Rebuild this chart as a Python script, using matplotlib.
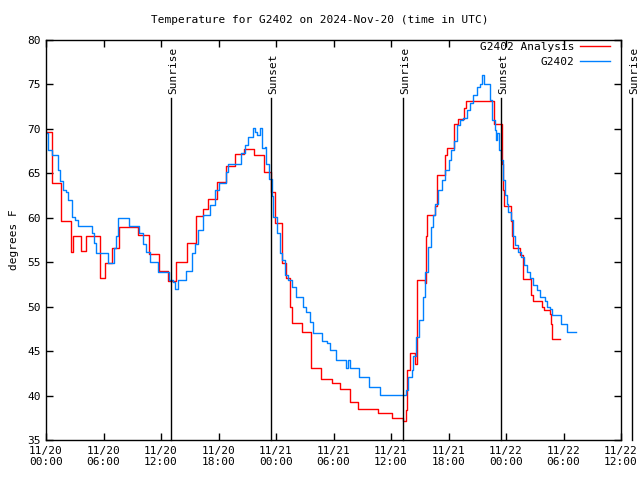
import matplotlib
matplotlib.use('Agg')
import matplotlib.pyplot as plt

plt.rcParams['font.family'] = ['DejaVu Sans Mono']
plt.rcParams['font.size'] = 8

# hours since 2024-11-20 00:00 UTC
analysis_hours = [0.0, 0.6, 1.6, 2.6, 2.85, 3.6, 4.2, 5.0, 5.6, 6.2, 6.9, 7.6, 9.6, 10.7, 11.8, 12.7,
                  13.6, 14.7, 15.7, 16.4, 16.9, 17.8, 18.8, 19.7, 20.7, 21.7, 22.7, 23.5, 23.9, 24.6,
                  25.0, 25.5, 25.7, 26.7, 27.6, 28.7, 29.8, 30.7, 31.7, 32.6, 34.6, 36.1, 37.2,
                  37.6, 37.7, 38.0, 38.5, 38.7, 39.5, 39.7, 39.8, 40.6, 40.8, 41.6, 41.8, 42.6, 43.0,
                  43.6, 43.8, 46.7, 47.6, 47.7, 47.8, 48.5, 48.6, 48.7, 49.5, 49.8, 50.6, 50.8, 51.8,
                  52.0, 52.6, 52.7, 52.8, 53.6]
analysis_temp = [69.7, 63.9, 59.6, 56.2, 57.9, 56.3, 58.0, 58.0, 53.2, 54.9, 56.6, 59.0, 58.1, 55.9, 54.0, 52.9,
                 55.0, 57.2, 60.2, 61.0, 62.1, 64.0, 65.8, 67.2, 67.7, 67.1, 65.2, 62.9, 59.4, 54.9,
                 53.2, 50.0, 48.2, 47.2, 43.1, 41.9, 41.4, 40.7, 39.3, 38.5, 38.0, 37.5, 37.1,
                 38.4, 42.9, 44.8, 43.6, 53.0, 52.7, 57.9, 60.3, 61.3, 64.8, 67.1, 67.9, 70.6, 71.1,
                 72.3, 73.1, 70.5, 66.1, 63.1, 61.3, 59.6, 57.9, 56.6, 55.8, 53.1, 51.3, 50.6, 50.0,
                 49.6, 49.2, 48.0, 46.4, 46.4]

obs_hours = [0.0, 0.25, 0.6, 1.3, 1.5, 1.75, 2.1, 2.3, 2.7, 3.0, 3.3, 4.8, 5.0, 5.2, 6.5, 7.1, 7.3, 7.55,
             8.7, 9.7, 10.15, 10.4, 10.85, 11.7, 12.8, 13.3, 13.45, 13.8, 14.6, 15.2, 15.55, 15.9,
             16.4, 17.1, 17.6, 18.1, 18.8, 19.0, 20.35, 20.8, 21.1, 21.6, 21.8, 22.0, 22.3, 22.5,
             22.8, 23.0, 23.3, 23.55, 23.7, 24.1, 24.4, 24.6, 24.9, 25.3, 25.7, 26.1, 26.85, 27.1,
             27.5, 27.9, 28.8, 29.3, 29.6, 30.3, 31.3, 31.55, 31.7, 32.7, 33.7, 34.85, 37.6, 37.8,
             38.2, 38.3, 38.6, 38.9, 39.3, 39.55, 39.9, 40.2, 40.4, 40.6, 40.9, 41.3, 41.6, 42.0,
             42.3, 42.6, 42.9, 43.2, 43.5, 43.9, 44.2, 44.6, 44.95, 45.3, 45.5, 45.7, 46.3, 46.5,
             46.8, 47.0, 47.1, 47.3, 47.5, 47.7, 47.9, 48.1, 48.25, 48.5, 48.7, 48.95, 49.3, 49.6,
             49.9, 50.2, 50.5, 50.85, 51.2, 51.55, 52.1, 52.3, 52.6, 52.8, 53.7, 54.4, 55.3]
obs_temp = [69.5, 67.6, 67.1, 65.4, 64.1, 63.1, 62.9, 62.0, 60.1, 59.75, 59.1, 58.25, 57.2, 56.0, 54.9, 56.6, 57.9, 60.0,
            59.1, 58.25, 57.1, 56.1, 55.05, 53.9, 53.0, 52.8, 52.0, 53.0, 54.0, 56.0, 57.1, 58.6,
            60.3, 61.4, 63.1, 63.9, 65.2, 66.05, 67.25, 68.2, 69.1, 70.1, 69.7, 69.3, 70.1, 67.8,
            68.0, 66.1, 64.4, 62.4, 60.1, 58.25, 56.0, 55.25, 53.6, 53.0, 52.25, 51.05, 50.0, 49.4,
            48.3, 47.0, 46.1, 45.9, 45.1, 44.0, 43.1, 44.0, 43.1, 42.05, 41.0, 40.05, 40.6, 42.1,
            42.9, 44.4, 46.6, 48.5, 51.1, 53.9, 56.75, 59.0, 60.3, 61.6, 63.1, 64.25, 65.4, 66.5,
            67.6, 68.6, 70.4, 71.0, 71.2, 72.1, 72.9, 73.8, 74.75, 75.1, 76.1, 75.1, 73.25, 71.0,
            69.9, 68.75, 69.5, 67.6, 66.5, 64.25, 62.6, 61.6, 60.7, 59.75, 57.9, 56.9, 56.2, 55.6,
            54.7, 53.9, 53.2, 52.4, 51.9, 51.1, 50.6, 50.0, 49.7, 49.1, 48.05, 47.1, 47.1]

sun_hours = [13.05, 23.48, 37.25, 47.48, 61.15]
sun_labels = ['Sunrise', 'Sunset', 'Sunrise', 'Sunset', 'Sunrise']

tick_hours = [0, 6, 12, 18, 24, 30, 36, 42, 48, 54, 60]
tick_labels = ['11/20\n00:00', '11/20\n06:00', '11/20\n12:00', '11/20\n18:00',
               '11/21\n00:00', '11/21\n06:00', '11/21\n12:00', '11/21\n18:00',
               '11/22\n00:00', '11/22\n06:00', '11/22\n12:00']

fig = plt.figure(figsize=(6.4, 4.8), dpi=100)
ax = fig.add_axes([46/640, 40/480, 575/640, 400/480])

ax.plot(analysis_hours, analysis_temp, color='#ff0000', lw=1.0, drawstyle='steps-post', label='G2402 Analysis')
ax.plot(obs_hours, obs_temp, color='#0080ff', lw=1.0, drawstyle='steps-post', label='G2402')

for h, lab in zip(sun_hours, sun_labels):
    ax.plot([h, h], [35, 73.5], color='black', lw=1.0, clip_on=False)
    ax.text(h + 0.2, 73.9, lab, rotation=90, ha='center', va='bottom', clip_on=False)

ax.set_xlim(0, 60)
ax.set_ylim(35, 80)
ax.set_xticks(tick_hours)
ax.set_xticklabels(tick_labels)
ax.set_yticks(range(35, 81, 5))
ax.tick_params(direction='in', length=5, width=1, top=True, right=True, pad=4)
for s in ax.spines.values():
    s.set_linewidth(1.0)

ax.set_ylabel('degrees F', labelpad=6)
fig.text(0.5, 1 - 20/480, 'Temperature for G2402 on 2024-Nov-20 (time in UTC)', ha='center', va='center')

ax.legend(loc='upper right', bbox_to_anchor=(1 - 3/575, 1 + 6/400), frameon=False, markerfirst=False,
          handlelength=2.7, labelspacing=0.45, borderaxespad=0.3, handletextpad=0.5)

fig.savefig('out.png', dpi=100)
